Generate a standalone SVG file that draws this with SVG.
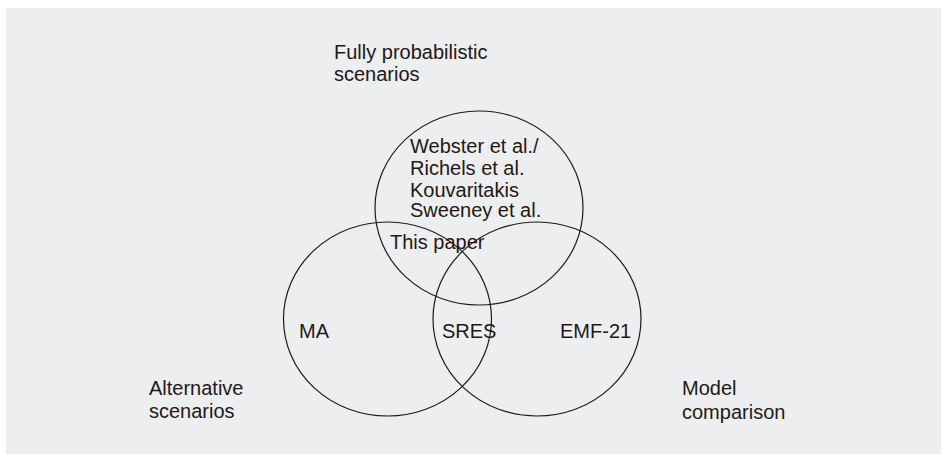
<svg xmlns="http://www.w3.org/2000/svg" width="941" height="454" viewBox="0 0 941 454">
<style>
.c{fill:none;stroke:#231815;stroke-width:1.2}
text{font-family:"Liberation Sans",Arial,sans-serif;font-size:20px;fill:#231815}
</style>
<rect x="0" y="0" width="941" height="454" fill="#ffffff"/>
<rect x="6" y="8" width="935" height="446" fill="#edeef0"/>
<g id="top">
<ellipse class="c" cx="479" cy="208" rx="104" ry="97"/>
<text x="410" y="153">Webster et al./</text>
<text x="410" y="175">Richels et al.</text>
<text x="410" y="197">Kouvaritakis</text>
<text x="410" y="217">Sweeney et al.</text>
</g>
<g id="left">
<ellipse class="c" cx="387.5" cy="319" rx="104" ry="97"/>
<text x="299" y="338">MA</text>
</g>
<g id="right">
<ellipse class="c" cx="537" cy="319" rx="104" ry="97"/>
<text x="560" y="338">EMF-21</text>
</g>
<g id="overlap">
<text x="390" y="249">This paper</text>
<text x="442" y="338">SRES</text>
</g>
<g id="labels">
<text x="334" y="59">Fully probabilistic</text>
<text x="334" y="81">scenarios</text>
<text x="149" y="395">Alternative</text>
<text x="149" y="418">scenarios</text>
<text x="682" y="395">Model</text>
<text x="682" y="419">comparison</text>
</g>
<g id="connectors"></g>
</svg>
